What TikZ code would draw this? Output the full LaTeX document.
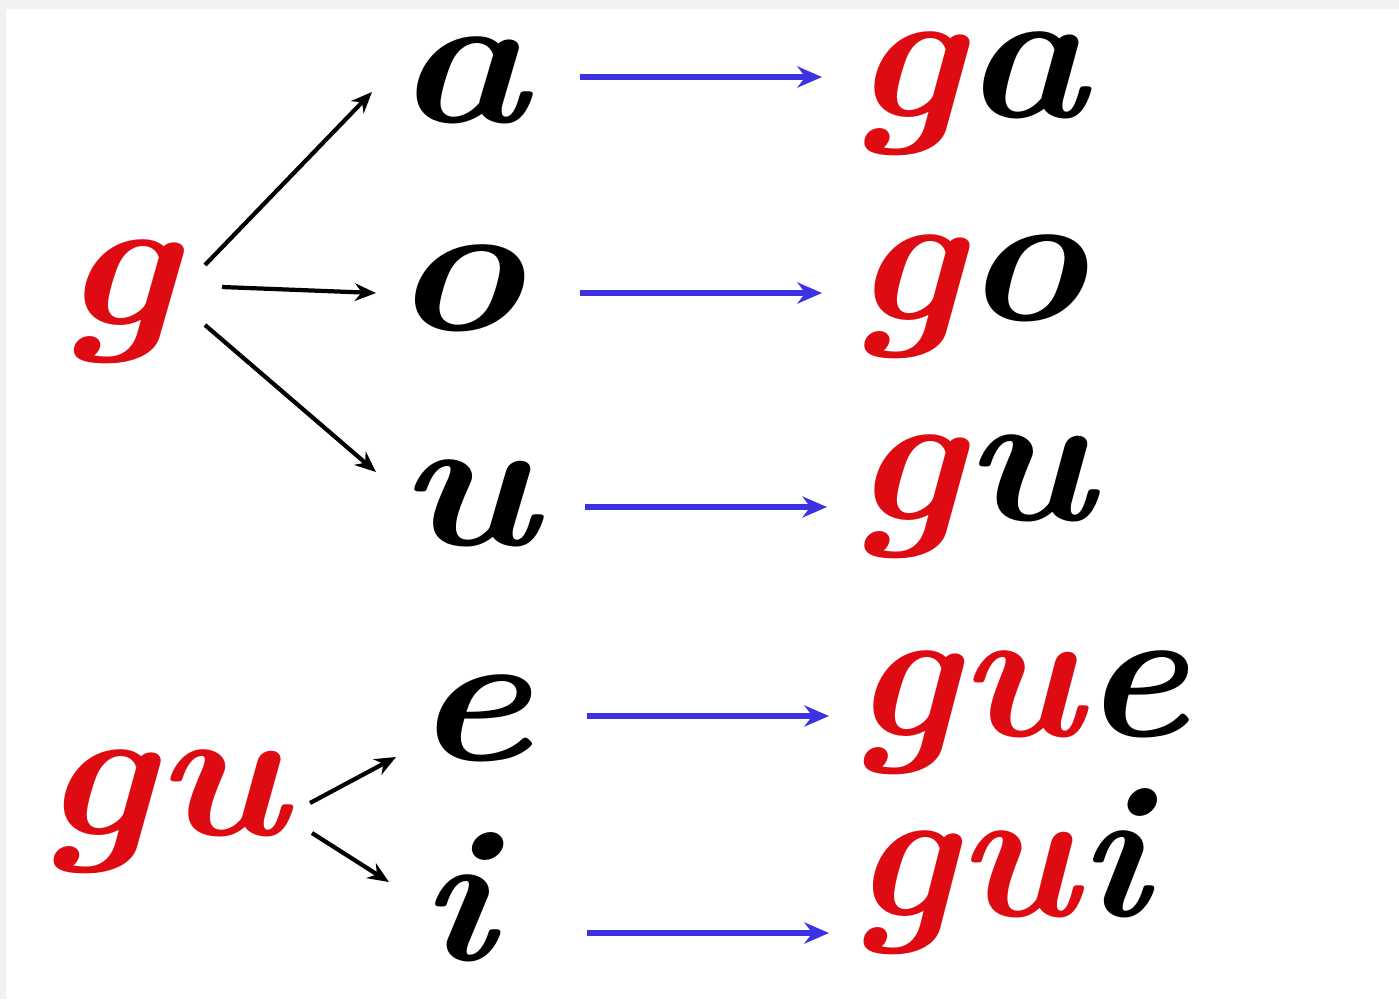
\documentclass[tikz,border=0pt]{standalone}
\usepackage{graphicx}
\usetikzlibrary{arrows.meta}
\definecolor{gred}{RGB}{222,12,18}
\definecolor{gblue}{RGB}{60,50,225}
\definecolor{frame}{RGB}{241,241,239}
\newcommand{\wide}[2]{\scalebox{#1}[1]{#2}}
\tikzset{
  letter/.style={inner sep=0pt, anchor=base, font=\fontsize{54}{60}\selectfont\bfseries\itshape},
  wordr/.style={letter, anchor=base west},
  blk/.style={draw=black, line width=1.2pt, -{Stealth[length=6pt,width=5pt]}},
  blu/.style={draw=gblue, line width=1.7pt, -{Stealth[length=7pt,width=6pt]}}
}
\begin{document}
\begin{tikzpicture}[x=0.01cm,y=-0.01cm]
\useasboundingbox (0,0) rectangle (1399,999);
\fill[frame] (0,0) rectangle (1399,999);
\fill[white] (6,9) rectangle (1399,999);
% left
\node[letter, text=gred] (g1) at (120,325) {\wide{1.15}{g}};
\node[letter, text=gred] (gu1) at (164,835) {\wide{1.12}{gu}};
% middle
\node[letter] (a) at (462,122) {\wide{1.18}{a}};
\node[letter] (o) at (458,330) {\wide{1.18}{o}};
\node[letter] (u) at (467,545) {\wide{1.18}{u}};
\node[letter] (e) at (472,760) {\wide{1.18}{e}};
\node[letter] (i) at (457,960) {\wide{1.1}{i}};
% right
\node[wordr] (ga) at (852,117) {\wide{1.1}{\textcolor{gred}{g}a}};
\node[wordr] (go) at (852,320) {\wide{1.1}{\textcolor{gred}{g}o}};
\node[wordr] (gu2) at (852,520) {\wide{1.1}{\textcolor{gred}{g}u}};
\node[wordr] (gue) at (852,736) {\wide{1.05}{\textcolor{gred}{gu}e}};
\node[wordr] (gui) at (852,916) {\wide{1.03}{\textcolor{gred}{gu}i}};
% arrow ends
\coordinate (g1a) at (205,265); \coordinate (aa) at (372,92);
\coordinate (g1o) at (222,287); \coordinate (oa) at (376,293);
\coordinate (g1u) at (205,325); \coordinate (ua) at (376,472);
\coordinate (gu1e) at (310,803); \coordinate (ea) at (396,757);
\coordinate (gu1i) at (312,833); \coordinate (ia) at (389,882);
\draw[blk] (g1a) -- (aa);
\draw[blk] (g1o) -- (oa);
\draw[blk] (g1u) -- (ua);
\draw[blk] (gu1e) -- (ea);
\draw[blk] (gu1i) -- (ia);
% blue arrows
\coordinate (a1) at (580,77);  \coordinate (ga1) at (822,77);
\coordinate (o1) at (580,293); \coordinate (go1) at (822,293);
\coordinate (u1) at (585,507); \coordinate (gu21) at (827,507);
\coordinate (e1) at (587,716); \coordinate (gue1) at (829,716);
\coordinate (i1) at (587,933); \coordinate (gui1) at (829,933);
\draw[blu] (a1) -- (ga1);
\draw[blu] (o1) -- (go1);
\draw[blu] (u1) -- (gu21);
\draw[blu] (e1) -- (gue1);
\draw[blu] (i1) -- (gui1);
\end{tikzpicture}
\end{document}
